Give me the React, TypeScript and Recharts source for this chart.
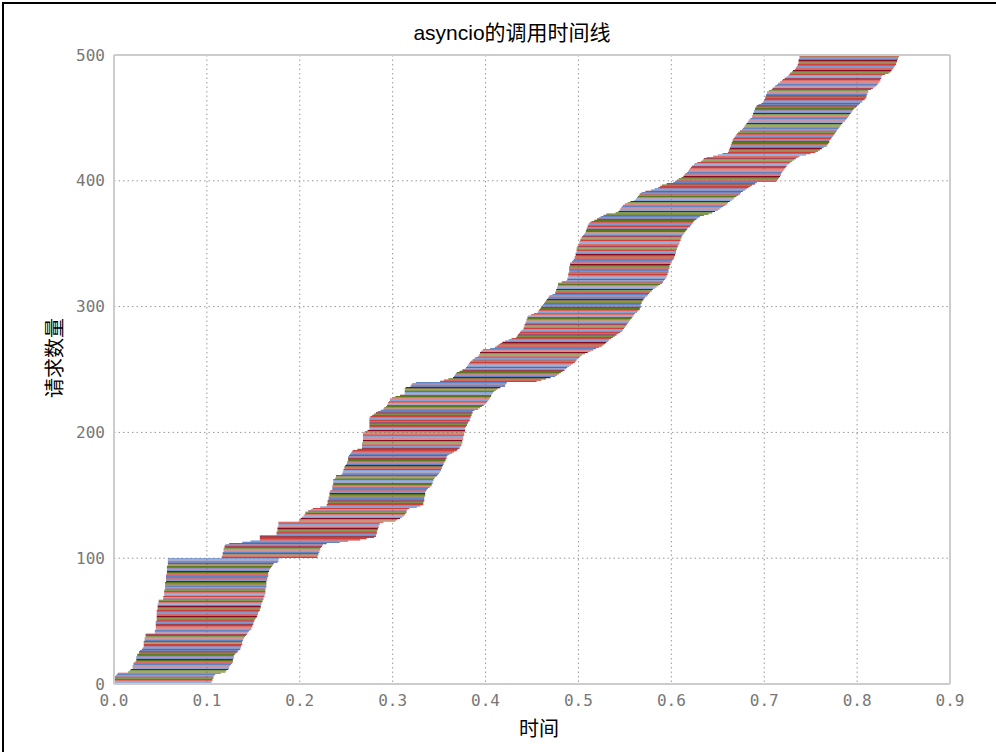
import { BarChart, Bar, Cell, XAxis, YAxis, CartesianGrid, ReferenceLine } from 'recharts';

// request start / end times in ms, request 0 first
const startMs = [
  1, 1, 1, 1, 1, 1, 2, 3, 4, 15,
  17, 18, 20, 20, 20, 21, 21, 23, 24, 24,
  24, 24, 25, 25, 27, 27, 28, 30, 31, 32,
  32, 32, 32, 32, 33, 33, 33, 34, 34, 34,
  44, 44, 44, 45, 45, 45, 45, 45, 45, 45,
  46, 46, 46, 46, 46, 46, 46, 46, 46, 47,
  47, 47, 47, 47, 48, 48, 48, 53, 53, 53,
  54, 54, 54, 54, 54, 55, 55, 55, 55, 55,
  55, 56, 56, 56, 56, 56, 56, 57, 57, 57,
  57, 57, 57, 57, 58, 58, 58, 58, 58, 58,
  116, 116, 117, 117, 117, 118, 118, 118, 119, 119,
  120, 124, 138, 147, 157, 157, 157, 157, 175, 175,
  175, 176, 176, 176, 176, 177, 177, 177, 177, 199,
  200, 201, 202, 204, 205, 206, 206, 209, 212, 214,
  222, 229, 229, 230, 230, 230, 231, 231, 231, 232,
  232, 232, 232, 233, 235, 235, 235, 235, 236, 236,
  236, 236, 236, 238, 239, 239, 245, 246, 246, 247,
  247, 248, 248, 249, 250, 251, 251, 252, 252, 252,
  252, 253, 254, 255, 256, 257, 262, 267, 267, 267,
  267, 267, 268, 268, 268, 268, 268, 268, 268, 268,
  270, 273, 275, 275, 275, 275, 275, 275, 275, 275,
  275, 275, 276, 278, 280, 282, 284, 287, 290, 291,
  293, 294, 295, 295, 296, 297, 297, 300, 303, 308,
  313, 313, 313, 313, 313, 314, 319, 320, 321, 325,
  351, 355, 360, 365, 366, 367, 368, 369, 372, 375,
  378, 379, 380, 381, 382, 383, 384, 386, 388, 389,
  392, 393, 394, 394, 395, 397, 405, 410, 412, 414,
  416, 418, 421, 425, 428, 433, 434, 435, 436, 437,
  438, 440, 441, 441, 442, 442, 443, 443, 444, 444,
  445, 445, 446, 449, 452, 456, 457, 458, 459, 460,
  461, 462, 463, 464, 465, 466, 467, 468, 469, 472,
  475, 475, 476, 476, 477, 477, 478, 478, 478, 482,
  487, 488, 488, 489, 489, 489, 489, 490, 490, 490,
  490, 490, 491, 491, 491, 493, 494, 495, 496, 496,
  497, 497, 497, 498, 498, 498, 498, 499, 500, 500,
  501, 501, 502, 502, 503, 504, 505, 506, 507, 508,
  508, 509, 509, 510, 510, 511, 512, 514, 517, 520,
  522, 524, 527, 530, 540, 543, 544, 545, 546, 547,
  548, 550, 553, 556, 560, 562, 563, 564, 565, 566,
  568, 572, 578, 582, 586, 588, 590, 595, 602, 604,
  606, 608, 611, 613, 614, 615, 617, 618, 619, 620,
  621, 622, 624, 625, 628, 632, 634, 635, 638, 645,
  650, 655, 661, 662, 662, 663, 663, 664, 664, 665,
  665, 666, 666, 667, 668, 669, 670, 671, 672, 674,
  676, 677, 678, 679, 680, 681, 682, 683, 684, 685,
  687, 687, 688, 688, 689, 689, 690, 690, 691, 692,
  694, 697, 699, 700, 700, 701, 701, 702, 702, 703,
  703, 705, 708, 709, 711, 712, 714, 715, 717, 719,
  720, 722, 724, 726, 727, 728, 730, 731, 733, 734,
  735, 736, 736, 737, 737, 737, 737, 738, 738, 738,
];

const endMs = [
  105, 105, 106, 106, 107, 107, 108, 109, 115, 120,
  121, 123, 124, 124, 125, 126, 127, 128, 128, 128,
  129, 129, 129, 130, 131, 133, 134, 136, 136, 137,
  137, 138, 138, 138, 139, 139, 140, 141, 142, 143,
  144, 145, 146, 148, 148, 149, 149, 150, 150, 151,
  151, 152, 153, 154, 154, 155, 155, 156, 157, 157,
  158, 158, 158, 159, 159, 160, 160, 161, 161, 162,
  162, 163, 163, 163, 163, 163, 164, 164, 164, 164,
  164, 164, 165, 165, 165, 166, 166, 166, 166, 167,
  167, 168, 169, 170, 171, 172, 176, 177, 177, 178,
  219, 219, 220, 220, 221, 221, 222, 222, 223, 224,
  225, 229, 243, 252, 265, 272, 280, 282, 282, 283,
  283, 283, 284, 284, 285, 285, 286, 286, 290, 303,
  305, 308, 310, 312, 313, 314, 315, 315, 316, 318,
  326, 330, 333, 333, 333, 334, 334, 334, 334, 335,
  335, 335, 335, 336, 337, 338, 340, 342, 342, 343,
  343, 344, 344, 345, 346, 348, 349, 350, 351, 352,
  352, 353, 353, 354, 355, 355, 356, 357, 357, 358,
  358, 359, 361, 364, 366, 369, 370, 372, 373, 374,
  374, 375, 375, 375, 376, 376, 376, 377, 377, 377,
  378, 378, 378, 378, 379, 380, 380, 381, 382, 383,
  383, 384, 384, 385, 385, 386, 386, 388, 392, 394,
  396, 398, 400, 401, 402, 403, 404, 405, 406, 406,
  407, 408, 409, 411, 413, 416, 421, 421, 422, 423,
  455, 460, 465, 470, 475, 477, 479, 481, 483, 485,
  487, 488, 490, 492, 494, 496, 497, 498, 500, 501,
  502, 504, 507, 510, 513, 516, 519, 522, 525, 527,
  529, 530, 532, 533, 535, 537, 539, 541, 543, 545,
  547, 548, 549, 550, 551, 552, 553, 554, 555, 556,
  557, 558, 559, 560, 561, 563, 564, 566, 566, 567,
  567, 567, 568, 568, 569, 570, 571, 572, 574, 575,
  576, 577, 579, 580, 582, 584, 586, 588, 590, 591,
  592, 593, 594, 595, 595, 596, 596, 597, 597, 597,
  598, 598, 598, 599, 599, 600, 601, 602, 603, 603,
  604, 604, 605, 605, 605, 606, 606, 607, 607, 608,
  609, 609, 610, 610, 611, 611, 612, 613, 614, 615,
  616, 617, 618, 620, 621, 622, 623, 624, 625, 627,
  629, 631, 635, 640, 644, 647, 650, 652, 654, 656,
  658, 660, 661, 663, 665, 667, 668, 670, 672, 674,
  675, 677, 679, 681, 683, 685, 687, 690, 692, 713,
  714, 715, 716, 717, 718, 718, 719, 720, 721, 722,
  723, 724, 725, 727, 728, 730, 732, 734, 736, 738,
  745, 750, 755, 758, 760, 762, 764, 767, 768, 769,
  770, 770, 771, 772, 773, 774, 775, 776, 777, 778,
  779, 780, 781, 782, 783, 784, 785, 787, 788, 789,
  790, 791, 792, 793, 794, 795, 796, 797, 799, 800,
  802, 803, 805, 806, 808, 809, 810, 810, 811, 811,
  812, 812, 815, 817, 819, 821, 822, 823, 824, 825,
  825, 826, 826, 827, 830, 834, 836, 837, 838, 839,
  840, 841, 842, 842, 843, 843, 844, 844, 845, 845,
];

const timeTicks = [0, 100, 200, 300, 400, 500, 600, 700, 800, 900];
const countTicks = [0, 100, 200, 300, 400, 500];

// stripe pattern repeated over the requests
const stripeColors = [
  '#5f85c6', '#5f85c6', '#d23f3a', '#d23f3a', '#587a1b', '#8a0a22',
  '#5f85c6', '#5f85c6', '#cf4a45', '#587a1b', '#587a1b', '#8a0a22', '#7484bd', '#d23f3a',
];

const rows = startMs.map((s, i) => ({ idx: i, start: s, dur: endMs[i] - s }));

const tickFont = { fontFamily: 'DejaVu Sans Mono', fontSize: 16, fill: '#777' };
const cjk = "'Liberation Sans', 'Noto Sans CJK SC', sans-serif";

export default function App() {
  return (
    <div style={{ position: 'absolute', left: 0, top: 0, width: 996, height: 752, background: '#fff', overflow: 'hidden' }}>
      <div style={{ position: 'absolute', left: 2, top: 2, width: 994, height: 750, borderTop: '2px solid #000', borderLeft: '2px solid #000' }} />
      <div style={{ position: 'absolute', left: 312, width: 400, top: 20, textAlign: 'center', fontFamily: cjk, fontSize: 21, color: '#000', lineHeight: '26px' }}>
        asyncio的调用时间线
      </div>
      <div style={{ position: 'absolute', left: 339, width: 400, top: 716, textAlign: 'center', fontFamily: cjk, fontSize: 20, color: '#000', lineHeight: '26px' }}>
        时间
      </div>
      <div style={{ position: 'absolute', left: 55, top: 358, transform: 'translate(-50%, -50%) rotate(-90deg)', fontFamily: cjk, fontSize: 20, color: '#000', whiteSpace: 'nowrap', lineHeight: '26px' }}>
        请求数量
      </div>
      <div style={{ position: 'absolute', left: 0, top: 0 }}>
        <BarChart
          width={996}
          height={752}
          data={rows}
          layout="vertical"
          barCategoryGap={0}
          margin={{ top: 55, right: 46, bottom: 38, left: 74 }}
        >
          <CartesianGrid yAxisId="num" stroke="#999" strokeDasharray="1.5 3" />
          <XAxis
            type="number"
            domain={[0, 900]}
            ticks={timeTicks}
            tickFormatter={(v: number) => (v / 1000).toFixed(1)}
            tick={tickFont}
            tickLine={false}
            tickSize={6}
            tickMargin={5}
            height={30}
            axisLine={{ stroke: '#cccccc', strokeWidth: 2 }}
          />
          <YAxis yAxisId="cat" type="category" dataKey="idx" reversed hide width={0} />
          <YAxis
            yAxisId="num"
            type="number"
            dataKey="idx"
            domain={[0, 500]}
            ticks={countTicks}
            reversed
            tick={tickFont}
            tickLine={false}
            tickSize={6}
            tickMargin={3}
            width={40}
            axisLine={{ stroke: '#cccccc', strokeWidth: 2 }}
          />
          <ReferenceLine yAxisId="num" y={500} stroke="#cccccc" strokeWidth={2} />
          <ReferenceLine yAxisId="num" x={900} stroke="#cccccc" strokeWidth={2} />
          <Bar yAxisId="cat" dataKey="start" stackId="t" fill="none" barSize={2} isAnimationActive={false} />
          <Bar yAxisId="cat" dataKey="dur" stackId="t" barSize={2} isAnimationActive={false}>
            {rows.map((r) => (
              <Cell key={r.idx} fill={stripeColors[r.idx % stripeColors.length]} />
            ))}
          </Bar>
        </BarChart>
      </div>
    </div>
  );
}
